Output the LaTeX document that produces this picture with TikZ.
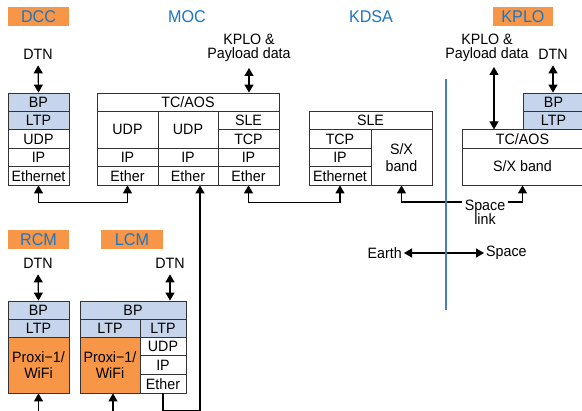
\documentclass[tikz,border=0pt]{standalone}
\usepackage{fontspec}
\setmainfont{Liberation Sans}[FakeStretch=0.95]
\usetikzlibrary{arrows.meta,calc}
\definecolor{orng}{HTML}{F79646}
\definecolor{lblue}{HTML}{C6D5EC}
\definecolor{tblue}{HTML}{1C75C4}
\definecolor{lineblue}{HTML}{4A7EBB}
\newcommand\bx[7]{%
  \pgfmathsetmacro\bxcx{(#3+#5)/2}%
  \pgfmathsetmacro\bxcy{(#4+#6)/2}%
  \pgfmathsetmacro\bxw{#5-#3}%
  \pgfmathsetmacro\bxh{#6-#4}%
  \node[#1, minimum width=\bxw pt, minimum height=\bxh pt] (#2) at (\bxcx,\bxcy) {#7};}
\begin{document}
\begin{tikzpicture}[x=1pt,y=-1pt,
  cell/.style={draw=black!80, line width=0.8pt, inner sep=0pt, font=\fontsize{15}{16.5}\selectfont, align=center},
  bluecell/.style={cell, fill=lblue},
  orcell/.style={cell, fill=orng},
  lbl/.style={font=\fontsize{15}{14}\selectfont, align=center, inner sep=1pt},
  title/.style={font=\fontsize{17}{18}\selectfont, text=tblue},
  tag/.style={title, fill=orng, minimum width=61pt, minimum height=19pt, inner sep=0pt},
  conn/.style={line width=1.2pt, {Triangle[length=8pt,width=9pt]}-{Triangle[length=8pt,width=9pt]}},
  conn1/.style={line width=1.2pt, -{Triangle[length=8pt,width=9pt]}},
]
\clip (0,0) rectangle (582,411);
\fill[white] (0,0) rectangle (582,411);

% titles
\node[tag] (dcc) at (38.5,16.5) {DCC};
\node[title] (moc) at (187,16.5) {MOC};
\node[title] (kdsa) at (371,16.5) {KDSA};
\node[tag, minimum width=60pt] (kplo) at (523,16.5) {KPLO};
\node[tag] (rcm) at (38.5,239.5) {RCM};
\node[tag, minimum width=62pt] (lcm) at (132,239.5) {LCM};

% DCC
\bx{bluecell}{dccbp}{8}{93}{69}{111.4}{BP}
\bx{bluecell}{dccltp}{8}{111.4}{69}{129.8}{LTP}
\bx{cell}{dccudp}{8}{129.8}{69}{148.2}{UDP}
\bx{cell}{dccip}{8}{148.2}{69}{166.6}{IP}
\bx{cell}{dcceth}{8}{166.6}{69}{185}{Ethernet}

% MOC
\bx{cell}{moctc}{97}{93}{279}{111.4}{TC/AOS}
\bx{cell}{mocudpa}{97}{111.4}{158}{148.2}{UDP}
\bx{cell}{mocudpb}{158}{111.4}{218}{148.2}{UDP}
\bx{cell}{mocsle}{218}{111.4}{279}{129.8}{SLE}
\bx{cell}{moctcp}{218}{129.8}{279}{148.2}{TCP}
\bx{cell}{mocipa}{97}{148.2}{158}{166.6}{IP}
\bx{cell}{mocipb}{158}{148.2}{218}{166.6}{IP}
\bx{cell}{mocipc}{218}{148.2}{279}{166.6}{IP}
\bx{cell}{mocetha}{97}{166.6}{158}{185}{Ether}
\bx{cell}{mocethb}{158}{166.6}{218}{185}{Ether}
\bx{cell}{mocethc}{218}{166.6}{279}{185}{Ether}

% KDSA
\bx{cell}{kdsasle}{309}{111.4}{432}{129.8}{SLE}
\bx{cell}{kdsatcp}{309}{129.8}{371}{148.2}{TCP}
\bx{cell}{kdsaip}{309}{148.2}{371}{166.6}{IP}
\bx{cell}{kdsaeth}{309}{166.6}{371}{185}{Ethernet}
\bx{cell}{kdsasx}{371}{129.8}{432}{185}{S/X\\band}

% KPLO
\bx{bluecell}{kplobp}{523}{93}{584}{111.4}{BP}
\bx{bluecell}{kploltp}{523}{111.4}{584}{129.8}{LTP}
\bx{cell}{kplotc}{462}{129.8}{583}{148.2}{TC/AOS}
\bx{cell}{kplosx}{462}{148.2}{583}{185}{S/X band}

% RCM
\bx{bluecell}{rcmbp}{8}{301}{69}{319}{BP}
\bx{bluecell}{rcmltp}{8}{319}{69}{337}{LTP}
\bx{orcell}{rcmpx}{8}{337}{69}{393}{Proxi−1/\\WiFi}

% LCM
\bx{bluecell}{lcmbp}{80}{301}{186}{319}{BP}
\bx{bluecell}{lcmltpa}{80}{319}{140}{337}{LTP}
\bx{bluecell}{lcmltpb}{140}{319}{186}{337}{LTP}
\bx{orcell}{lcmpx}{80}{337}{140}{393}{Proxi−1/\\WiFi}
\bx{cell}{lcmudp}{140}{337}{186}{355.7}{UDP}
\bx{cell}{lcmip}{140}{355.7}{186}{374.3}{IP}
\bx{cell}{lcmeth}{140}{374.3}{186}{393}{Ether}

% labels
\node[lbl] (dccdtn) at (38,54) {DTN};
\node[lbl] (mocpl) at (249,48) {KPLO \&\\Payload data};
\node[lbl] (kplopl) at (487,48) {KPLO \&\\Payload data};
\node[lbl] (kplodtn) at (553,54) {DTN};
\node[lbl] (rcmdtn) at (38,263) {DTN};
\node[lbl] (lcmdtn) at (170,263) {DTN};
\node[lbl] (spacelink) at (485,212) {Space\\link};
\node[lbl, anchor=east] (earth) at (403,253) {Earth};
\node[lbl, anchor=west] (space) at (485,253) {Space};

% vertical arrows from labels
\draw[conn, shorten <=5pt] (dccdtn.south) -- (dccbp.north);
\draw[conn, shorten <=5pt] (mocpl.south) -- (mocpl.south |- moctc.north);
\coordinate (kploplarr) at (494,67);
\draw[conn] (kploplarr) -- (kploplarr |- kplotc.north);
\draw[conn, shorten <=5pt] (kplodtn.south) -- (kplodtn.south |- kplobp.north);
\draw[conn, shorten <=5pt] (rcmdtn.south) -- (rcmbp.north);
\draw[conn, shorten <=5pt] (lcmdtn.south) -- (lcmdtn.south |- lcmbp.north);

% links
\draw[conn] (dcceth.south) -- ++(0,17) -| (mocetha.south);
\draw[conn] (mocethc.south) -- ++(0,17) -| (kdsaeth.south);
\coordinate (slL) at (462,202);
\coordinate (slR) at (508,202);
\draw[conn1] (slL) -| (kdsasx.south);
\draw[conn1] (slR) -| (kplosx.south);
\draw[conn1] (lcmeth.south) -- ++(0,17.5) -| ([xshift=12pt]mocethb.south);
\coordinate (rcmin) at (38.5,415);
\draw[conn1] (rcmin) -- (rcmpx.south);
\coordinate (lcmin) at (113,415);
\draw[conn1] (lcmin) -- (lcmin |- lcmpx.south);
\draw[conn, shorten <=1pt, shorten >=1pt] (earth.east) -- (space.west);

% divider
\coordinate (divtop) at (446,79);
\coordinate (divbot) at (446,310);
\draw[lineblue, line width=2pt] (divtop) -- (divbot);
\end{tikzpicture}
\end{document}
